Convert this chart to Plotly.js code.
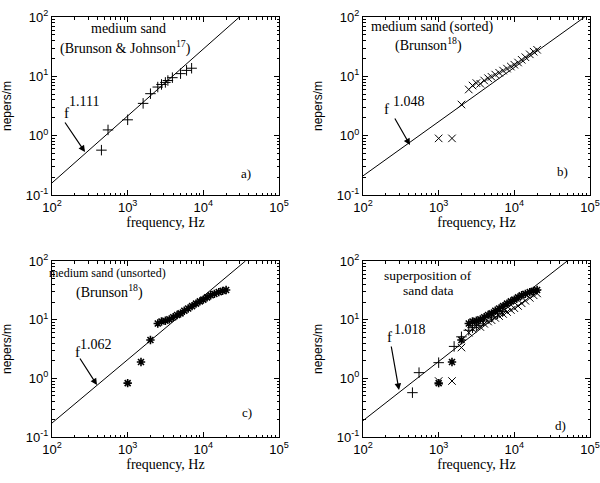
<!DOCTYPE html>
<html>
<head>
<meta charset="utf-8">
<script src="https://cdn.plot.ly/plotly-3.0.1.min.js"></script>
<style>html,body{margin:0;padding:0;background:#fff;}#chart{width:600px;height:483px;}</style>
</head>
<body>
<div id="chart"></div>
<script>
// ---- data ----
// a) medium sand (Brunson & Johnson) : "+"
var aFreq  = [450, 550, 1000, 1600, 2000, 2500, 2800, 3150, 3400, 3900, 5000, 6000, 7000];
var aAtten = [0.57, 1.25, 1.85, 3.5, 5.1, 6.6, 7.3, 7.9, 8.5, 9.5, 11.1, 12.6, 13.7];
// b) medium sand (sorted) : "x"
var bFreq  = [1000, 1500, 2000, 2500, 2800, 3150, 3550, 4000, 4500, 5000, 5600, 6300, 7100, 8000, 9000, 10000, 11200, 12500, 14000, 16000, 18000, 20000];
var bAtten = [0.9, 0.9, 3.35, 6.0, 7.0, 7.7, 7.5, 8.5, 9.3, 9.8, 10.7, 11.5, 12.5, 13.5, 14.6, 15.7, 17.1, 19.0, 21.0, 23.5, 26.0, 28.0];
// c) medium sand (unsorted) : "*"
var cFreq  = [1000, 1500, 2000, 2500, 2800, 3150, 3550, 4000, 4500, 5000, 5600, 6300, 7100, 8000, 9000, 10000, 11200, 12500, 14000, 16000, 18000, 20000];
var cAtten = [0.83, 1.9, 4.5, 8.6, 9.3, 9.6, 10.1, 11.0, 12.0, 12.8, 14.2, 15.5, 17.0, 18.8, 20.5, 22.0, 24.0, 26.0, 27.5, 29.5, 31.0, 32.0];
// fitted power-law lines (end points)
var aLineF = [100, 30000], aLineV = [0.16, 100];
var bLineF = [100, 85000], bLineV = [0.21, 100];
var cLineF = [100, 36000], cLineV = [0.173, 100];
var dLineF = [100, 50000], dLineV = [0.19, 100];
var exponents = ['1.111', '1.048', '1.062', '1.018'];
var panelLabels = ['a)', 'b)', 'c)', 'd)'];
var xTickVals = [100, 1000, 10000, 100000];
var xTickText = ['10<sup>2</sup>', '10<sup>3</sup>', '10<sup>4</sup>', '10<sup>5</sup>'];
var yTickVals = [0.1, 1, 10, 100];
var yTickText = ['10<sup>-1</sup>', '10<sup>0</sup>', '10<sup>1</sup>', '10<sup>2</sup>'];

var SANS = 'Liberation Sans, Arial, Helvetica, sans-serif';
var SERIF = 'Liberation Serif, Times New Roman, Times, serif';
var W = 600, H = 483;
function px(x){ return x / W; }
function py(y){ return 1 - y / H; }

function xax(l, r, anchor){
  return {type:'log', domain:[px(l), px(r)], anchor:anchor, range:[2,5],
    tickmode:'array', tickvals:xTickVals, ticktext:xTickText,
    ticks:'inside', ticklen:5, tickcolor:'#000', showline:true, linecolor:'#000', linewidth:1,
    mirror:'ticks', showgrid:false, zeroline:false,
    tickfont:{family:SANS, size:13, color:'#000'},
    minor:{ticks:'inside', ticklen:2.5, tickcolor:'#000', dtick:'D1', showgrid:false},
    title:{text:'frequency, Hz', font:{family:SERIF, size:14, color:'#000'}, standoff:3}};
}
function yax(t, b, anchor){
  return {type:'log', domain:[py(b), py(t)], anchor:anchor, range:[-1,2],
    tickmode:'array', tickvals:yTickVals, ticktext:yTickText,
    ticks:'inside', ticklen:5, tickcolor:'#000', showline:true, linecolor:'#000', linewidth:1,
    mirror:'ticks', showgrid:false, zeroline:false,
    tickfont:{family:SANS, size:13, color:'#000'},
    minor:{ticks:'inside', ticklen:2.5, tickcolor:'#000', dtick:'D1', showgrid:false},
    title:{text:'nepers/m', font:{family:SANS, size:12, color:'#000'}, standoff:11}};
}

var plusM = {symbol:'cross-thin-open', size:7.5, color:'#000', line:{width:1, color:'#000'}};
var xM = {symbol:'x-thin-open', size:7.5, color:'#000', line:{width:1, color:'#000'}};
var starM = {symbol:'asterisk-open', size:7, color:'#000', line:{width:1.6, color:'#000'}};
function pts(f, v, m, xa, ya){ return {x:f, y:v, mode:'markers', type:'scatter', marker:m, xaxis:xa, yaxis:ya, showlegend:false, cliponaxis:true}; }
function line(f, v, xa, ya){ return {x:f, y:v, mode:'lines', type:'scatter', line:{color:'#000', width:1}, xaxis:xa, yaxis:ya, showlegend:false}; }

var data = [
  line(aLineF, aLineV, 'x', 'y'), pts(aFreq, aAtten, plusM, 'x', 'y'),
  line(bLineF, bLineV, 'x2', 'y2'), pts(bFreq, bAtten, xM, 'x2', 'y2'),
  line(cLineF, cLineV, 'x3', 'y3'), pts(cFreq, cAtten, starM, 'x3', 'y3'),
  line(dLineF, dLineV, 'x4', 'y4'),
  pts(aFreq, aAtten, plusM, 'x4', 'y4'), pts(bFreq, bAtten, xM, 'x4', 'y4'), pts(cFreq, cAtten, starM, 'x4', 'y4')
];

function txt(x, y, s, size){
  return {xref:'paper', yref:'paper', x:px(x), y:py(y), text:s, showarrow:false,
    xanchor:'center', yanchor:'middle', font:{family:SERIF, size:size||14, color:'#000'}};
}
function arrow(tx, ty, hx, hy){
  return {xref:'paper', yref:'paper', x:px(hx), y:py(hy), axref:'pixel', ayref:'pixel',
    ax:tx-hx, ay:ty-hy, text:'', showarrow:true, arrowhead:2, arrowsize:1.1, arrowwidth:1.2,
    arrowcolor:'#000', standoff:0, startstandoff:0};
}

var ann = [
  txt(128, 28, 'medium sand'), txt(125, 47, '(Brunson &amp; Johnson<sup>17</sup>)'),
  txt(66, 113, 'f', 15), txt(84, 101, exponents[0], 14), arrow(64, 121, 85, 152), txt(246, 173, panelLabels[0], 13),

  txt(432, 27, 'medium sand (sorted)'), txt(428, 45, '(Brunson<sup>18</sup>)'),
  txt(386, 109, 'f', 15), txt(409, 102, exponents[1], 14), arrow(394, 117, 410, 145), txt(562, 172, panelLabels[1], 13),

  txt(107, 273, 'medium sand (unsorted)', 12), txt(109, 291, '(Brunson<sup>18</sup>)'),
  txt(77, 352, 'f', 15), txt(96, 344, exponents[2], 14), arrow(79, 357, 97, 385), txt(247, 412, panelLabels[2], 13),

  txt(428, 275, 'superposition of', 13.5), txt(428, 290, 'sand data', 13.5),
  txt(389, 337, 'f', 15), txt(410, 329, exponents[3], 14), arrow(391, 345, 399, 390), txt(560, 425, panelLabels[3], 13)
];

var layout = {
  width:W, height:H, margin:{l:0, r:0, t:0, b:0}, paper_bgcolor:'#fff', plot_bgcolor:'#fff',
  showlegend:false, annotations:ann,
  xaxis: xax(52, 279, 'y'),  yaxis: yax(17, 195, 'x'),
  xaxis2: xax(363, 590, 'y2'), yaxis2: yax(17, 195, 'x2'),
  xaxis3: xax(52, 279, 'y3'), yaxis3: yax(261, 437, 'x3'),
  xaxis4: xax(363, 590, 'y4'), yaxis4: yax(261, 437, 'x4')
};
Plotly.newPlot('chart', data, layout, {staticPlot:true, displayModeBar:false});
</script>
</body>
</html>
